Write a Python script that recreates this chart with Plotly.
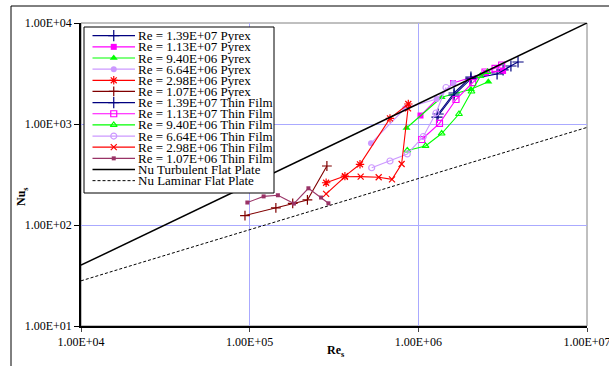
import plotly.graph_objects as go

# ---------------- data ----------------
x_lines = [1.0e4, 1.0e7]
nu_turbulent = [40.0, 1.0e4]
nu_laminar = [28.0, 925.0]

nav_p_x = [1.31e6, 1.63e6, 2.05e6, 3.18e6, 3.90e6]
nav_p_y = [1256, 2028, 2917, 3428, 4110]

mag_p_x = [1.03e6, 1.605e6, 2.52e6, 3.18e6]
mag_p_y = [1213, 2547, 3198, 3350]

grn_p_x = [8.51e5, 1.375e6, 2.05e6, 2.60e6]
grn_p_y = [913, 1838, 2206, 2624]

lav_p_x = [5.24e5, 8.34e5, 1.285e6, 1.612e6]
lav_p_y = [644, 1430, 1768, 2547]

red_p_x = [2.84e5, 3.67e5, 4.51e5, 6.79e5, 8.72e5]
red_p_y = [262, 305, 399, 1137, 1578]

brn_p_x = [9.38e4, 1.43e5, 1.80e5, 2.20e5, 2.87e5]
brn_p_y = [124, 148, 164, 177, 384]

nav_t_x = [1.29e6, 1.627e6, 2.05e6, 2.93e6, 3.54e6]
nav_t_y = [1172, 1936, 2794, 3126, 3750]

mag_t_x = [1.047e6, 1.335e6, 1.672e6, 2.10e6, 2.485e6, 2.85e6, 3.12e6]
mag_t_y = [702, 1016, 1748, 2565, 3273, 3560, 3837]

grn_t_x = [8.60e5, 1.103e6, 1.375e6, 1.742e6, 2.066e6, 2.337e6, 2.57e6]
grn_t_y = [547, 606, 805, 1256, 2098, 2987, 3273]

lav_t_x = [5.29e5, 6.79e5, 8.60e5, 1.07e6, 1.273e6, 1.459e6]
lav_t_y = [369, 430, 505, 752, 1285, 2298]

red_t_x = [2.84e5, 3.67e5, 4.55e5, 5.82e5, 6.98e5, 7.96e5, 8.69e5]
red_t_y = [203, 300, 301, 297, 283, 402, 1430]

mau_t_x = [9.69e4, 1.21e5, 1.47e5, 1.83e5, 2.23e5, 2.65e5, 2.93e5]
mau_t_y = [167, 192, 197, 163, 231, 187, 164]

x_tickvals = [1e4, 1e5, 1e6, 1e7]
x_ticktext = ["1.00E+04", "1.00E+05", "1.00E+06", "1.00E+07"]
y_tickvals = [1e1, 1e2, 1e3, 1e4]
y_ticktext = ["1.00E+01", "1.00E+02", "1.00E+03", "1.00E+04"]

# ---------------- styles ----------------
series = [
    ("Re = 1.39E+07 Pyrex", nav_p_x, nav_p_y, "#000080", "cross-thin", 8),
    ("Re = 1.13E+07 Pyrex", mag_p_x, mag_p_y, "#ff00ff", "square", 6),
    ("Re = 9.40E+06 Pyrex", grn_p_x, grn_p_y, "#00ff00", "triangle-up", 7),
    ("Re = 6.64E+06 Pyrex", lav_p_x, lav_p_y, "#cc99ff", "circle", 6),
    ("Re = 2.98E+06 Pyrex", red_p_x, red_p_y, "#ff0000", "asterisk", 7),
    ("Re = 1.07E+06 Pyrex", brn_p_x, brn_p_y, "#800000", "cross-thin", 7),
    ("Re = 1.39E+07 Thin Film", nav_t_x, nav_t_y, "#000080", "cross-thin", 8),
    ("Re = 1.13E+07 Thin Film", mag_t_x, mag_t_y, "#ff00ff", "square-open", 6),
    ("Re = 9.40E+06 Thin Film", grn_t_x, grn_t_y, "#00ff00", "triangle-up-open", 6),
    ("Re = 6.64E+06 Thin Film", lav_t_x, lav_t_y, "#cc99ff", "circle-open", 6),
    ("Re = 2.98E+06 Thin Film", red_t_x, red_t_y, "#ff0000", "x-thin", 6),
    ("Re = 1.07E+06 Thin Film", mau_t_x, mau_t_y, "#993366", "square", 4),
]

W, H = 609, 366
L, R, T, B = 81, 22, 23, 40
PX0, PX1, PY0, PY1 = L, W - R, T, H - B  # plot area in pixels


def marker_for(color, symbol, size):
    thin = ("thin" in symbol) or ("open" in symbol) or symbol == "asterisk"
    return dict(symbol=symbol, size=size, color=color,
                line=dict(color=color, width=1.2 if thin else 0))


fig = go.Figure()

for name, xs, ys, color, symbol, size in series:
    fig.add_trace(go.Scatter(
        x=xs, y=ys, mode="lines+markers", name=name,
        line=dict(color=color, width=1.1),
        marker=marker_for(color, symbol, size),
        showlegend=False, cliponaxis=False))

fig.add_trace(go.Scatter(x=x_lines, y=nu_turbulent, mode="lines",
                         name="Nu Turbulent Flat Plate",
                         line=dict(color="black", width=1.5), showlegend=False))
fig.add_trace(go.Scatter(x=x_lines, y=nu_laminar, mode="lines",
                         name="Nu Laminar Flat Plate",
                         line=dict(color="black", width=1, dash="3px,2px"),
                         showlegend=False))

# ---------------- custom legend drawn on an overlay pixel axis ----------------
box_x0, box_x1, box_y0, box_y1 = 84, 274, 27, 193
fig.add_trace(go.Scatter(
    x=[box_x0, box_x1, box_x1, box_x0, box_x0],
    y=[box_y0, box_y0, box_y1, box_y1, box_y0],
    mode="lines", fill="toself", fillcolor="white",
    line=dict(color="black", width=1), xaxis="x2", yaxis="y2",
    showlegend=False, hoverinfo="skip"))

legend_entries = [(s[0], s[3], s[4], s[5], "solid", 1.2) for s in series]
legend_entries.append(("Nu Turbulent Flat Plate", "black", None, 0, "solid", 1.5))
legend_entries.append(("Nu Laminar Flat Plate", "black", None, 0, "3px,2px", 1))

row0, row_step = 35.7, 11.15
sx0, sx1 = 92.5, 135
annotations = []
for i, (name, color, symbol, size, dash, lw) in enumerate(legend_entries):
    yy = row0 + i * row_step
    fig.add_trace(go.Scatter(
        x=[sx0, sx1], y=[yy, yy], mode="lines",
        line=dict(color=color, width=lw, dash=dash),
        xaxis="x2", yaxis="y2", showlegend=False, hoverinfo="skip"))
    if symbol:
        fig.add_trace(go.Scatter(
            x=[(sx0 + sx1) / 2], y=[yy], mode="markers",
            marker=marker_for(color, symbol, size),
            xaxis="x2", yaxis="y2", showlegend=False, hoverinfo="skip"))
    annotations.append(dict(
        x=135.5, y=yy, xref="x2", yref="y2", text=name, showarrow=False,
        xanchor="left", yanchor="middle",
        font=dict(family="Liberation Serif", size=13, color="black")))

# axis titles
annotations.append(dict(
    x=(22 - PX0) / (PX1 - PX0), y=(PY1 - 197) / (PY1 - PY0),
    xref="paper", yref="paper", text="<b>Nu<sub>s</sub></b>", textangle=-90,
    showarrow=False, xanchor="center", yanchor="middle",
    font=dict(family="Liberation Serif", size=12, color="black")))
annotations.append(dict(
    x=(336 - PX0) / (PX1 - PX0), y=(PY1 - 351) / (PY1 - PY0),
    xref="paper", yref="paper", text="<b>Re<sub>s</sub></b>",
    showarrow=False, xanchor="center", yanchor="middle",
    font=dict(family="Liberation Serif", size=12, color="black")))

pw, ph = PX1 - PX0, PY1 - PY0
shapes = [
    # plot-area frame (top/right gray)
    dict(type="rect", xref="paper", yref="paper", x0=0, x1=1, y0=0, y1=1,
         line=dict(color="#808080", width=1), layer="below"),
    # outer chart border
    dict(type="rect", xref="paper", yref="paper",
         x0=(11 - PX0) / pw, x1=(W + 6 - PX0) / pw,
         y0=(PY1 - (H + 6)) / ph, y1=(PY1 - 6) / ph,
         line=dict(color="black", width=1), layer="below"),
]

axis_font = dict(family="Liberation Serif", size=12, color="black")
fig.update_layout(
    width=W, height=H,
    margin=dict(l=L, r=R, t=T, b=B, autoexpand=False),
    paper_bgcolor="white", plot_bgcolor="white",
    showlegend=False,
    xaxis=dict(type="log", range=[4, 7], tickvals=x_tickvals, ticktext=x_ticktext,
               showgrid=True, gridcolor="#aaaaff", gridwidth=1,
               showline=True, linecolor="black", linewidth=1.5,
               ticks="outside", ticklen=4, tickcolor="#444444",
               tickfont=axis_font, zeroline=False, fixedrange=True,
               ticklabeloverflow="allow"),
    yaxis=dict(type="log", range=[1, 4], tickvals=y_tickvals, ticktext=y_ticktext,
               showgrid=True, gridcolor="#aaaaff", gridwidth=1,
               showline=True, linecolor="black", linewidth=1.5,
               ticks="outside", ticklen=5, tickcolor="black",
               tickfont=axis_font, zeroline=False, fixedrange=True,
               ticklabeloverflow="allow"),
    xaxis2=dict(overlaying="x", anchor="y2", range=[PX0, PX1], visible=False,
                fixedrange=True),
    yaxis2=dict(overlaying="y", anchor="x2", range=[PY1, PY0], visible=False,
                fixedrange=True),
    annotations=annotations,
    shapes=shapes,
)

fig.write_html("out.html")
